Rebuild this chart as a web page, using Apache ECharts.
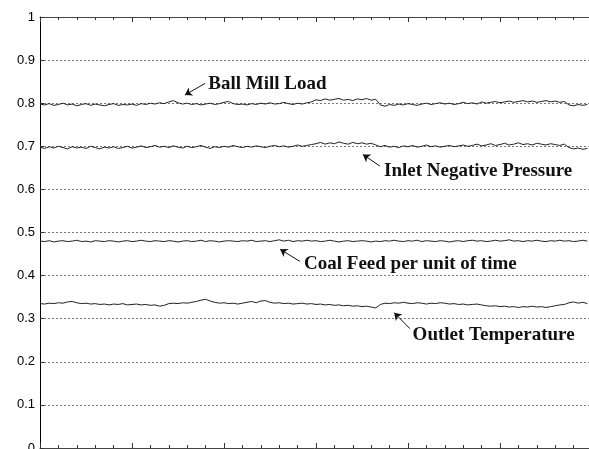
<!DOCTYPE html>
<html>
<head>
<meta charset="utf-8">
<script src="https://cdn.jsdelivr.net/npm/echarts@6/dist/echarts.min.js"></script>
<style>
  html, body { margin: 0; padding: 0; background: #fff; }
  #chart { width: 589px; height: 449px; }
</style>
</head>
<body>
<div id="chart"></div>
<script>
// sample index 0..119, x axis runs 0..120
const ballMillLoad = [
  0.798,0.796,0.799,0.795,0.797,0.800,0.796,0.798,0.794,0.797,
  0.799,0.795,0.798,0.796,0.794,0.797,0.799,0.795,0.797,0.796,
  0.798,0.795,0.799,0.797,0.800,0.798,0.801,0.799,0.803,0.806,
  0.801,0.798,0.800,0.797,0.799,0.796,0.798,0.800,0.797,0.799,
  0.802,0.804,0.799,0.797,0.798,0.796,0.799,0.797,0.800,0.798,
  0.801,0.798,0.799,0.802,0.799,0.797,0.800,0.798,0.801,0.803,
  0.808,0.806,0.810,0.807,0.809,0.811,0.807,0.809,0.806,0.810,
  0.808,0.811,0.807,0.809,
  0.796,0.793,0.797,0.795,0.798,0.796,0.799,0.797,0.795,0.798,
  0.800,0.797,0.799,0.801,0.798,0.800,0.797,0.799,0.802,0.799,
  0.801,0.798,0.803,0.800,0.802,0.804,0.801,0.803,0.805,0.802,
  0.804,0.806,0.803,0.805,0.802,0.804,0.806,0.803,0.805,0.802,
  0.804,0.796,0.794,0.797,0.795,0.797
];
const inletNegativePressure = [
  0.698,0.695,0.699,0.696,0.700,0.697,0.694,0.699,0.696,0.698,
  0.695,0.700,0.697,0.694,0.698,0.696,0.699,0.695,0.697,0.700,
  0.696,0.698,0.701,0.697,0.699,0.702,0.698,0.700,0.697,0.701,
  0.698,0.696,0.700,0.697,0.699,0.702,0.698,0.695,0.699,0.697,
  0.700,0.698,0.702,0.699,0.697,0.700,0.698,0.701,0.699,0.697,
  0.700,0.702,0.699,0.701,0.698,0.700,0.703,0.700,0.702,0.704,
  0.706,0.709,0.705,0.708,0.706,0.710,0.707,0.705,0.709,0.706,
  0.708,0.705,0.707,0.703,
  0.699,0.702,0.698,0.700,0.697,0.701,0.699,0.702,0.698,0.700,
  0.703,0.699,0.701,0.698,0.700,0.702,0.699,0.701,0.703,0.700,
  0.702,0.705,0.701,0.703,0.706,0.702,0.704,0.707,0.703,0.705,
  0.708,0.704,0.706,0.703,0.707,0.705,0.703,0.706,0.704,0.702,
  0.705,0.697,0.694,0.696,0.693,0.695
];
const coalFeed = [
  0.480,0.479,0.481,0.478,0.480,0.481,0.479,0.480,0.482,0.479,
  0.480,0.478,0.481,0.480,0.479,0.481,0.480,0.478,0.480,0.481,
  0.479,0.480,0.482,0.480,0.479,0.481,0.480,0.479,0.481,0.480,
  0.478,0.480,0.481,0.479,0.480,0.482,0.479,0.481,0.480,0.478,
  0.480,0.481,0.480,0.479,0.481,0.480,0.482,0.479,0.480,0.481,
  0.479,0.481,0.483,0.480,0.482,0.479,0.481,0.480,0.482,0.480,
  0.481,0.479,0.480,0.482,0.480,0.478,0.480,0.481,0.479,0.480,
  0.481,0.480,0.478,0.480,0.479,0.481,0.480,0.482,0.480,0.479,
  0.481,0.480,0.482,0.479,0.481,0.480,0.479,0.481,0.480,0.478,
  0.480,0.481,0.479,0.481,0.482,0.480,0.481,0.479,0.480,0.482,
  0.480,0.481,0.483,0.480,0.481,0.479,0.481,0.480,0.482,0.480,
  0.479,0.481,0.480,0.482,0.480,0.481,0.479,0.480,0.482,0.480
];
const outletTemperature = [
  0.335,0.334,0.336,0.335,0.337,0.336,0.339,0.340,0.337,0.335,
  0.336,0.334,0.335,0.333,0.334,0.332,0.334,0.333,0.335,0.332,
  0.333,0.334,0.332,0.333,0.331,0.332,0.329,0.331,0.335,0.336,
  0.335,0.337,0.336,0.338,0.340,0.343,0.345,0.341,0.338,0.336,
  0.337,0.335,0.336,0.334,0.336,0.338,0.340,0.337,0.341,0.342,
  0.338,0.336,0.337,0.335,0.336,0.334,0.335,0.336,0.334,0.335,
  0.333,0.334,0.332,0.333,0.331,0.332,0.330,0.331,0.329,0.330,
  0.328,0.329,0.327,0.325,0.333,0.336,0.335,0.337,0.336,0.338,
  0.336,0.335,0.337,0.336,0.334,0.336,0.335,0.337,0.336,0.334,
  0.335,0.333,0.334,0.332,0.333,0.334,0.332,0.330,0.329,0.330,
  0.328,0.329,0.327,0.328,0.326,0.328,0.327,0.329,0.327,0.328,
  0.326,0.328,0.330,0.332,0.333,0.337,0.339,0.336,0.338,0.335
];
const seriesNames = ['Ball Mill Load', 'Inlet Negative Pressure', 'Coal Feed per unit of time', 'Outlet Temperature'];
const seriesValues = [ballMillLoad, inletNegativePressure, coalFeed, outletTemperature];

// annotation arrows (head, tail) and label anchor, in data coordinates
const arrowHeads = [[31.5, 0.819], [70.2, 0.681], [52.2, 0.461], [77.0, 0.314]];
const arrowTails = [[35.9, 0.846], [73.9, 0.654], [56.5, 0.433], [80.4, 0.277]];
const labelAnchors = [[36.6, 0.844], [74.8, 0.642], [57.4, 0.426], [81.0, 0.263]];

const chart = echarts.init(document.getElementById('chart'));

const tickStyle = { color: '#333', width: 1 };
const xBase = {
  type: 'value', min: 0, max: 120, interval: 20,
  axisLine: { show: true, onZero: false, lineStyle: { color: '#444', width: 1 } },
  axisTick: { show: true, inside: true, length: 5, lineStyle: tickStyle },
  minorTick: { show: true, splitNumber: 5, length: 3, lineStyle: tickStyle },
  axisLabel: { show: false },
  splitLine: { show: false }
};

const series = seriesValues.map((vals, k) => ({
  name: seriesNames[k],
  type: 'line',
  data: vals.map((v, i) => [i, v]),
  showSymbol: false,
  symbol: 'none',
  lineStyle: { color: '#222', width: 1 },
  markLine: {
    silent: true,
    symbol: ['none', 'arrow'],
    symbolSize: 7,
    lineStyle: { color: '#111', width: 1, type: 'solid' },
    label: { show: false },
    data: [[{ coord: arrowTails[k] }, { coord: arrowHeads[k] }]]
  }
}));

const option = {
  animation: false,
  backgroundColor: '#fff',
  grid: { left: 40, top: 17, right: -3, bottom: 1, outerBoundsMode: 'none', containLabel: false },
  xAxis: [
    Object.assign({}, xBase, { position: 'bottom' }),
    Object.assign({}, xBase, { position: 'top' })
  ],
  yAxis: {
    type: 'value', min: 0, max: 1, interval: 0.1,
    axisLine: { show: true, lineStyle: { color: '#000', width: 1 } },
    axisTick: { show: true, inside: true, length: 4, lineStyle: tickStyle },
    axisLabel: { color: '#000', fontFamily: 'Liberation Sans', fontSize: 13, margin: 5 },
    splitLine: { show: true, lineStyle: { color: '#777', width: 1, type: [2, 2] } }
  },
  series: series
};
chart.setOption(option);

// place the annotation texts through the chart's own scales
const texts = labelAnchors.map((p, k) => {
  const px = chart.convertToPixel({ xAxisIndex: 0, yAxisIndex: 0 }, p);
  return {
    type: 'text', x: px[0], y: px[1],
    style: {
      text: seriesNames[k], fill: '#111',
      font: 'bold 19px "Liberation Serif"',
      verticalAlign: 'middle', align: 'left'
    }
  };
});
chart.setOption({ graphic: texts });
</script>
</body>
</html>
